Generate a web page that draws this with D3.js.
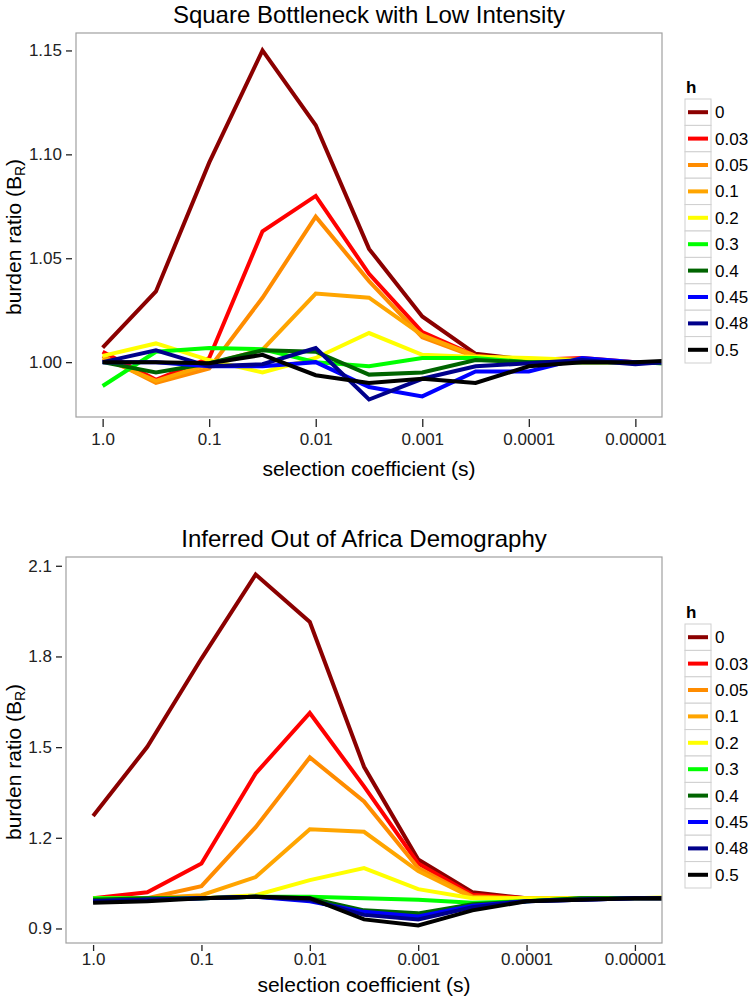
<!DOCTYPE html>
<html>
<head>
<meta charset="utf-8">
<script src="https://cdn.jsdelivr.net/npm/d3@7"></script>
<style>
  body { margin: 0; background: #fff; }
  text { font-family: "Liberation Sans", Arial, sans-serif; }
</style>
</head>
<body>
<div id="wrapper"></div>
<script>

// dominance levels and their colours
const hLevels = ["0", "0.03", "0.05", "0.1", "0.2", "0.3", "0.4", "0.45", "0.48", "0.5"]
const hColors = ["#8B0000", "#FF0000", "#FF8C00", "#FFA500", "#FFFF00",
                 "#00FF00", "#006400", "#0000FF", "#00008B", "#000000"]

// selection coefficients (half decades, last one runs past the axis)
const selCoef = [1, 0.316, 0.1, 0.0316, 0.01, 0.00316, 0.001, 0.000316,
                 0.0001, 0.0000316, 0.00001, 0.00000316]

const xTickValues = [1, 0.1, 0.01, 0.001, 0.0001, 0.00001]
const xTickLabels = ["1.0", "0.1", "0.01", "0.001", "0.0001", "0.00001"]

// burden ratio, square bottleneck (one row per h)
const squareBurden = [
  [1.007, 1.034, 1.096, 1.150, 1.114, 1.0545, 1.022, 1.004, 1.001, 1.000, 1.000, 1.000],
  [1.005, 0.9915, 1.002, 1.063, 1.080, 1.0425, 1.0145, 1.003, 1.001, 1.002, 1.000, 1.000],
  [1.003, 0.990, 0.997, 1.031, 1.070, 1.039, 1.012, 1.0025, 1.001, 1.001, 1.000, 1.000],
  [1.002, 0.991, 0.999, 1.006, 1.033, 1.031, 1.013, 1.003, 1.001, 1.000, 1.000, 1.000],
  [1.003, 1.009, 1.001, 0.995, 1.002, 1.014, 1.0035, 1.0025, 1.002, 1.001, 1.000, 1.000],
  [0.9885, 1.005, 1.0068, 1.0062, 1.000, 0.998, 1.002, 1.002, 1.000, 1.000, 1.000, 0.999],
  [1.000, 0.995, 0.9995, 1.0057, 1.005, 0.994, 0.995, 1.001, 1.000, 1.000, 1.000, 0.999],
  [1.000, 1.000, 0.998, 0.998, 1.000, 0.988, 0.9835, 0.9955, 0.9955, 1.002, 1.000, 1.000],
  [1.000, 1.0057, 0.998, 0.999, 1.0068, 0.982, 0.992, 0.998, 0.9995, 1.001, 0.999, 1.001],
  [1.000, 1.000, 0.9995, 1.0035, 0.9937, 0.990, 0.992, 0.990, 0.998, 1.000, 1.000, 1.001]
]

// burden ratio, out of Africa demography
const africaBurden = [
  [1.272, 1.501, 1.793, 2.071, 1.914, 1.435, 1.128, 1.020, 1.000, 1.000, 1.000, 1.000],
  [1.000, 1.020, 1.115, 1.413, 1.613, 1.370, 1.115, 1.012, 1.000, 1.000, 1.000, 1.000],
  [1.000, 1.000, 1.040, 1.235, 1.466, 1.320, 1.100, 1.006, 1.000, 1.000, 1.000, 1.000],
  [1.000, 1.000, 1.010, 1.070, 1.228, 1.220, 1.090, 1.002, 1.000, 1.000, 1.000, 1.000],
  [1.000, 1.000, 1.000, 1.010, 1.060, 1.100, 1.030, 1.000, 1.000, 1.000, 1.000, 1.005],
  [1.000, 1.000, 1.000, 1.005, 1.005, 1.000, 0.995, 0.985, 0.990, 1.000, 1.000, 1.000],
  [0.995, 1.000, 1.000, 1.005, 1.000, 0.960, 0.950, 0.980, 0.990, 1.000, 1.000, 1.000],
  [0.990, 0.995, 1.000, 1.005, 0.990, 0.955, 0.940, 0.975, 0.990, 0.995, 1.000, 1.000],
  [0.990, 0.995, 1.000, 1.005, 0.995, 0.945, 0.930, 0.970, 0.990, 0.995, 1.000, 1.000],
  [0.985, 0.990, 1.000, 1.005, 1.000, 0.930, 0.910, 0.960, 0.990, 0.995, 1.000, 1.000]
]

const squareYTicks = [1.00, 1.05, 1.10, 1.15]
const africaYTicks = [0.9, 1.2, 1.5, 1.8, 2.1]


function drawPanel(svg, opts) {
  const w = opts.right - opts.left
  const h = opts.bottom - opts.top

  const g = svg.append("g")
      .attr("transform", `translate(${opts.left},${opts.top})`)

  // x: log scale, ggplot style 5% padding on each side
  const lx = [Math.log10(xTickValues[0]), Math.log10(xTickValues[xTickValues.length - 1])]
  const px = (lx[0] - lx[1]) * 0.05
  const x = d3.scaleLog()
      .domain([Math.pow(10, lx[0] + px), Math.pow(10, lx[1] - px)])
      .range([0, w])

  const ext = d3.extent(opts.values.flat())
  const py = (ext[1] - ext[0]) * 0.05
  const y = d3.scaleLinear()
      .domain([ext[0] - py, ext[1] + py])
      .range([h, 0])

  // clip for the lines
  g.append("clipPath").attr("id", opts.id + "-clip")
    .append("rect").attr("width", w).attr("height", h)

  const line = d3.line()
      .x((d, i) => x(selCoef[i]))
      .y(d => y(d))

  g.append("g")
      .attr("clip-path", `url(#${opts.id}-clip)`)
    .selectAll("path")
    .data(opts.values)
    .join("path")
      .attr("d", line)
      .attr("fill", "none")
      .attr("stroke", (d, i) => hColors[i])
      .attr("stroke-width", 4)
      .attr("stroke-linejoin", "miter")

  // panel border
  g.append("rect")
      .attr("width", w).attr("height", h)
      .attr("fill", "none")
      .attr("stroke", "#a0a0a0")
      .attr("stroke-width", 1.2)

  // y axis
  const yAxis = g.append("g")
      .attr("transform", "translate(-4,0)")
      .call(d3.axisLeft(y).tickValues(opts.yTicks).tickFormat(d3.format(opts.yFormat))
        .tickSize(6).tickPadding(4))
  yAxis.select(".domain").remove()

  // x axis
  const xAxis = g.append("g")
      .attr("transform", `translate(0,${h + 2})`)
      .call(d3.axisBottom(x).tickValues(xTickValues).tickFormat((d, i) => xTickLabels[i])
        .tickSize(opts.xTick).tickPadding(opts.xPad))
  xAxis.select(".domain").remove()

  svg.selectAll(".tick line").attr("stroke", "#222").attr("stroke-width", 1.3)
  svg.selectAll(".tick text")
      .style("font-family", '"Liberation Sans", Arial, sans-serif')
      .style("font-size", "17px")
      .attr("fill", "#222")

  // titles
  g.append("text")
      .attr("x", w / 2).attr("y", -10)
      .attr("text-anchor", "middle")
      .style("font-size", "24px")
      .text(opts.title)

  g.append("text")
      .attr("x", w / 2).attr("y", h + opts.xTitleGap)
      .attr("text-anchor", "middle")
      .style("font-size", "21px")
      .text("selection coefficient (s)")

  const yTitle = svg.append("text")
      .attr("transform", `translate(21,${opts.top + h / 2 + 12}) rotate(-90)`)
      .attr("text-anchor", "middle")
      .style("font-size", "21px")
  yTitle.append("tspan").text("burden ratio (B")
  yTitle.append("tspan").text("R").style("font-size", "14px").attr("dy", 4)
  yTitle.append("tspan").text(")").attr("dy", -4)

  // legend
  const keyH = 26.4
  const legend = svg.append("g")
      .attr("transform", `translate(685,${opts.top + h / 2 - 5 * keyH + 6})`)

  legend.append("text")
      .attr("x", 1).attr("y", -6)
      .style("font-size", "17px")
      .style("font-weight", "bold")
      .text("h")

  const keys = legend.selectAll("g.key")
    .data(hLevels)
    .join("g")
      .attr("class", "key")
      .attr("transform", (d, i) => `translate(0,${i * keyH})`)

  keys.append("rect")
      .attr("width", 26).attr("height", keyH)
      .attr("fill", "#fff")
      .attr("stroke", "#cfcfcf")
      .attr("stroke-width", 1)

  keys.append("line")
      .attr("x1", 3).attr("x2", 23)
      .attr("y1", keyH / 2).attr("y2", keyH / 2)
      .attr("stroke", (d, i) => hColors[i])
      .attr("stroke-width", 4)

  keys.append("text")
      .attr("x", 30).attr("y", keyH / 2 + 6)
      .style("font-size", "17px")
      .text(d => d)
}

async function drawChart() {

  let dimensions = {
    width: 751,
    height: 996,
  }

  const wrapper = d3.select("#wrapper")
    .append("svg")
      .attr("width", dimensions.width)
      .attr("height", dimensions.height)

  wrapper.append("rect")
      .attr("width", dimensions.width).attr("height", dimensions.height)
      .attr("fill", "#fff")

  drawPanel(wrapper, {
    id: "square",
    title: "Square Bottleneck with Low Intensity",
    values: squareBurden,
    yTicks: squareYTicks,
    yFormat: ".2f",
    xTick: 8, xPad: 6, xTitleGap: 59,
    left: 76, right: 662, top: 33, bottom: 417,
  })

  drawPanel(wrapper, {
    id: "africa",
    title: "Inferred Out of Africa Demography",
    values: africaBurden,
    yTicks: africaYTicks,
    yFormat: ".1f",
    xTick: 6, xPad: 2, xTitleGap: 49,
    left: 66, right: 662, top: 557, bottom: 943,
  })
}

drawChart()
</script>
</body>
</html>
